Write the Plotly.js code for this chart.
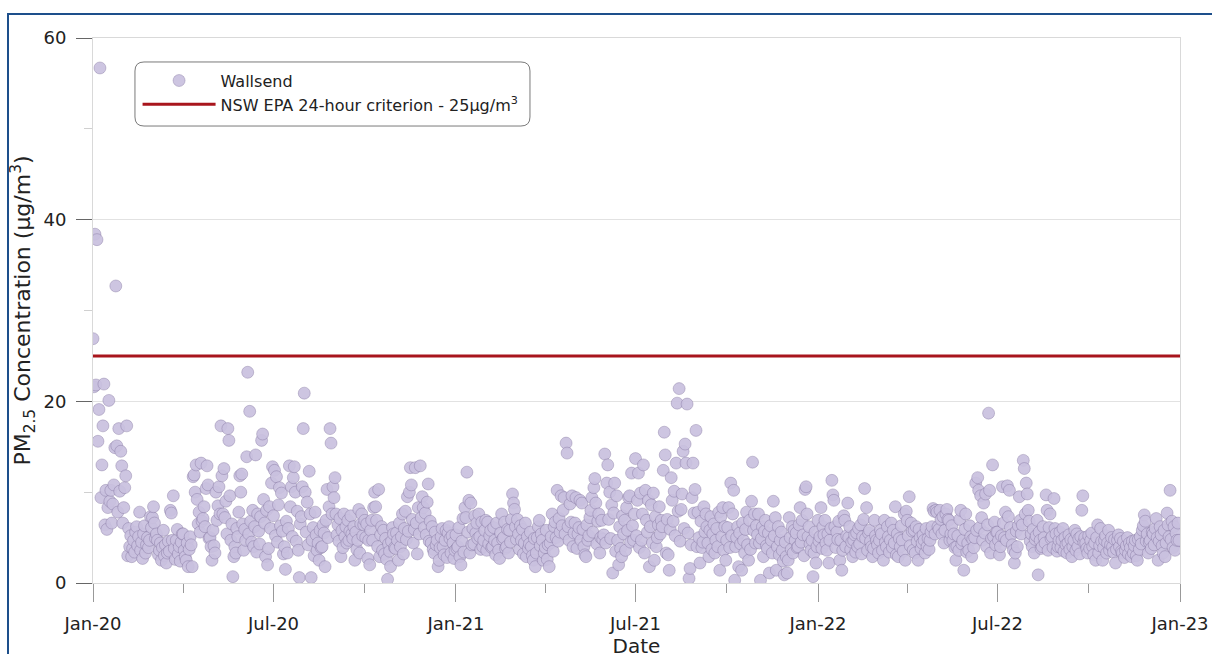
<!DOCTYPE html>
<html><head><meta charset="utf-8">
<script src="https://cdn.plot.ly/plotly-3.0.1.min.js"></script>
<style>
html,body{margin:0;padding:0;background:#fff;overflow:hidden;width:1212px;height:654px}
#chart{width:1212px;height:672px;position:absolute;left:0;top:0}
#frame{position:absolute;left:7px;top:13px;width:1260px;height:700px;border:2px solid #1d4f8b;pointer-events:none}
</style></head><body>
<div id="chart"></div><div id="frame"></div>
<script>
// Daily PM2.5 (µg/m3) at Wallsend, one array per month
const jan20 = [26.9,21.6,38.4,21.8,37.8,15.6,19.1,56.7,9.4,13.0,17.3,21.9,6.4,10.2,5.9,8.3,20.1,9.0,10.2,6.6,8.7,10.8,14.9,32.7,15.1,7.8,17.0,10.1,14.5,12.9,6.6];
const feb20 = [8.3,10.5,11.8,17.3,3.0,6.0,4.0,5.2,2.9,3.8,4.7,3.4,5.6,6.2,4.1,5.1,7.8,3.6,4.5,2.7,5.4,6.3,3.3,4.2,5.0,3.9,4.7,7.3,6.1];
const mar20 = [7.2,8.4,6.6,4.9,5.4,4.7,3.1,3.6,4.4,2.5,3.9,5.8,3.0,4.2,2.2,3.3,4.6,3.5,8.0,7.7,4.7,9.6,3.8,2.6,4.7,5.9,3.2,4.0,2.4,4.5,5.4];
const apr20 = [5.4,3.6,2.9,2.5,4.4,1.8,3.7,5.1,4.2,1.8,11.7,11.9,10.0,13.0,9.2,6.5,7.8,5.6,13.2,6.8,7.1,8.4,6.2,10.4,12.9,10.8,4.9,5.0,4.0,2.5];
const may20 = [5.8,4.1,3.3,10.0,6.9,8.5,10.6,7.6,17.3,11.8,7.6,12.6,7.2,9.0,5.4,17.0,15.7,9.6,4.7,6.5,0.7,2.9,4.0,3.3,6.0,5.1,7.8,11.8,10.0,12.0,6.5];
const jun20 = [3.6,5.9,4.7,13.9,23.2,5.4,18.9,6.8,4.5,8.0,4.0,6.2,14.1,3.4,7.6,5.7,4.3,7.3,15.7,16.4,9.2,6.6,2.9,8.0,2.0,3.8,8.4,6.0,11.0,12.8];
const jul20 = [7.4,12.4,5.2,11.7,4.5,8.6,10.5,6.3,9.9,5.7,3.2,4.0,1.5,6.8,3.3,6.0,12.9,8.4,10.6,5.1,11.6,12.8,10.0,4.6,7.9,3.6,0.6,6.5,7.3,10.6,17.0];
const aug20 = [20.9,10.0,5.6,8.9,4.2,12.3,7.6,0.6,4.7,6.1,3.0,7.8,5.3,3.6,4.4,2.5,5.8,3.9,4.0,6.4,5.5,1.8,6.9,10.3,5.0,8.4,17.0,15.4,7.6,10.6,9.4];
const sep20 = [11.6,7.6,5.3,6.4,4.6,7.1,2.9,5.8,3.9,7.6,5.1,6.2,4.4,6.9,4.7,5.7,7.4,5.4,4.9,6.2,2.5,5.6,3.7,4.7,8.1,3.3,6.5,7.6,5.2,6.4];
const oct20 = [6.9,5.0,6.5,2.7,4.7,2.0,5.8,6.9,4.7,8.3,10.0,8.4,6.9,4.0,10.3,2.9,5.3,6.2,3.6,5.8,3.2,4.9,2.6,0.4,4.3,3.5,1.8,4.6,6.1,5.4,3.9];
const nov20 = [3.8,5.5,4.7,2.5,6.6,4.0,5.1,7.6,3.2,6.0,7.9,4.8,9.5,5.7,10.0,12.7,10.8,7.0,4.4,5.9,12.7,6.6,3.2,8.3,5.4,12.9,7.2,9.5,8.3,6.1];
const dec20 = [7.7,5.3,8.9,10.9,4.6,6.8,4.4,6.2,3.7,3.3,5.6,4.2,4.7,1.8,2.5,3.9,5.1,6.0,4.0,3.1,4.7,5.8,2.8,5.5,6.2,4.9,3.3,5.2,4.4,2.7,3.6];
const jan21 = [5.3,3.8,4.0,6.1,2.9,2.0,4.6,7.1,3.4,8.3,7.2,12.2,5.6,9.1,3.3,8.8,4.2,6.0,4.3,7.4,5.5,6.6,4.9,7.6,5.1,3.7,6.7,4.0,4.7,5.8,6.9];
const feb21 = [3.6,6.7,4.3,5.2,5.8,3.9,4.0,6.1,4.7,3.1,6.6,4.4,3.6,2.7,5.5,7.6,4.8,5.0,6.7,3.8,4.0,5.9,3.3,5.8,4.5,7.0,9.8,8.8];
const mar21 = [8.1,6.2,4.8,7.0,5.4,3.7,6.3,4.7,5.9,3.2,4.4,6.6,2.9,5.1,3.8,4.3,5.6,4.0,3.0,2.5,4.9,1.8,3.3,5.0,6.2,6.9,4.1,5.4,4.7,2.5,3.3];
const apr21 = [3.9,5.8,2.6,4.2,1.8,4.4,5.1,7.6,3.5,6.2,6.7,5.0,10.2,4.6,7.1,5.6,9.6,6.3,8.0,9.4,5.4,15.4,14.3,6.2,4.7,8.7,6.7,9.6,4.0,5.5];
const may21 = [6.6,9.4,3.8,5.4,6.1,9.1,4.7,8.8,5.9,4.0,3.1,2.9,6.4,4.7,5.2,7.2,8.0,9.4,5.6,10.5,11.5,8.8,4.3,6.8,7.6,3.3,5.0,6.9,4.8,5.3,14.2];
const jun21 = [4.4,11.0,13.0,7.0,10.0,4.9,8.6,1.1,7.7,11.0,3.5,9.6,4.7,2.0,6.2,3.8,2.9,7.4,5.4,6.9,3.6,8.3,5.8,9.4,9.6,4.5,12.1,6.3,4.7,7.6];
const jul21 = [13.7,5.2,9.1,12.1,3.9,9.9,4.7,7.6,13.0,3.3,10.2,6.9,5.6,9.1,1.8,6.2,8.6,4.4,9.9,2.5,7.3,4.0,5.0,6.4,8.4,5.4,6.9,6.2,12.4,16.6,14.1];
const aug21 = [3.3,7.0,3.1,1.4,5.9,11.6,9.1,6.8,10.1,5.2,13.2,19.8,7.9,21.4,4.6,8.1,9.8,14.5,6.0,15.3,13.2,19.7,5.5,0.5,1.6,4.2,9.4,13.2,7.7,10.3,16.8];
const sep21 = [4.0,7.8,5.0,2.2,6.8,3.9,4.5,8.4,5.6,7.6,6.2,4.4,2.9,5.8,7.3,3.7,5.4,6.5,3.3,4.7,6.0,4.0,7.8,1.4,7.3,5.1,8.3,3.6,6.2,2.5];
const oct21 = [4.7,6.1,8.3,3.9,11.0,5.2,7.6,10.2,0.3,4.0,5.0,6.2,1.8,5.5,4.3,1.4,6.6,4.7,3.3,5.9,7.8,4.2,2.5,6.9,3.7,9.0,13.3,5.8,7.6,4.4,6.3];
const nov21 = [5.3,7.6,4.4,0.3,4.9,6.2,2.9,5.7,6.9,4.1,3.8,5.5,1.1,6.3,4.7,3.3,9.0,5.2,7.2,1.4,4.0,6.2,3.1,4.7,5.6,3.6,2.4,0.9,4.5,2.9];
const dec21 = [1.1,2.5,7.2,5.0,3.7,6.2,3.3,5.8,4.7,5.5,3.9,4.0,6.4,8.3,4.5,6.9,5.3,3.0,10.3,10.6,7.6,5.1,6.2,4.3,3.6,4.7,0.7,3.3,5.6,2.2,4.0];
const jan22 = [6.9,4.6,5.1,8.3,3.8,6.2,5.3,6.9,4.4,3.6,5.4,2.2,4.7,6.0,11.3,9.7,9.1,6.2,3.9,5.6,4.8,6.8,2.5,4.7,1.4,3.6,7.4,6.9,4.0,5.2,8.8];
const feb22 = [5.0,6.2,3.7,4.5,2.9,4.7,5.3,3.4,5.5,4.0,6.0,4.3,6.4,3.2,5.1,7.0,10.4,4.9,8.3,3.6,5.5,5.8,4.6,4.0,2.9,3.8,6.9,5.2];
const mar22 = [4.7,4.2,3.3,4.7,5.8,5.4,3.6,2.5,6.9,4.5,4.0,6.2,5.1,3.4,4.7,6.6,3.9,5.8,4.4,8.4,3.1,5.4,2.9,4.9,4.0,6.3,4.7,3.5,7.6,2.5,7.9];
const apr22 = [6.9,5.2,9.5,4.1,6.6,5.7,3.6,5.8,3.3,6.2,4.6,2.5,5.9,5.0,3.8,4.4,5.3,4.7,3.3,6.0,4.0,4.9,3.7,4.7,5.6,6.2,8.2,7.9,5.4,8.0];
const may22 = [7.8,6.2,5.9,8.0,7.0,5.4,7.3,4.4,5.8,7.6,8.1,7.0,6.9,4.7,5.4,6.3,4.7,5.4,3.9,2.5,4.0,5.2,3.6,7.0,8.0,4.3,4.7,1.4,5.9,7.6,3.4];
const jun22 = [4.4,3.6,6.3,5.1,2.9,4.8,3.9,5.0,11.0,5.8,11.6,10.2,6.1,9.6,7.2,4.7,8.8,5.5,9.8,4.0,6.4,18.7,10.2,3.3,4.9,13.0,5.1,6.7,4.2,5.6];
const jul22 = [5.6,4.7,3.1,4.0,5.2,10.6,6.6,5.0,7.8,4.7,10.7,7.3,10.2,6.1,5.3,4.2,3.6,2.2,3.3,5.7,4.0,6.3,9.5,6.9,5.4,6.4,13.5,12.6,7.6,11.0,9.8];
const aug22 = [8.0,6.8,4.6,5.4,4.0,5.9,3.3,4.8,5.2,6.9,0.9,5.6,4.7,3.8,4.0,6.2,5.0,4.4,9.7,8.0,3.6,6.1,7.6,4.9,5.1,3.9,9.3,6.0,5.4,3.5,4.0];
const sep22 = [4.7,5.6,3.9,4.7,6.0,3.5,5.0,4.2,3.3,4.4,5.3,3.7,4.8,2.9,4.0,4.7,5.8,3.6,5.4,4.0,4.9,3.2,5.1,8.0,9.6,4.5,5.0,4.4,3.8,3.3];
const oct22 = [5.2,3.8,4.7,5.5,4.0,3.1,4.4,2.5,5.0,6.4,3.3,4.1,6.0,4.6,2.5,3.9,4.7,5.2,3.3,4.4,5.8,3.6,4.2,5.0,4.0,3.4,4.8,2.2,3.7,4.7,5.3];
const nov22 = [4.0,4.9,3.5,3.3,4.6,2.8,3.6,4.1,5.0,3.2,4.4,3.9,2.9,4.6,3.3,4.1,4.7,3.0,2.5,4.8,3.7,5.1,4.3,5.8,6.3,7.5,6.8,4.6,5.4,3.3];
const dec22 = [4.5,4.7,3.8,5.6,5.4,4.2,6.0,7.1,5.0,2.5,4.6,6.2,5.3,4.1,3.3,5.8,2.9,4.4,7.7,6.4,5.1,10.2,4.8,6.8,3.9,6.2,3.6,5.5,4.7,6.6,4.7];

const criterionValue = 25;
const seriesName = 'Wallsend';
const criterionName = 'NSW EPA 24-hour criterion - 25µg/m<sup>3</sup>';
const xRange = ['2020-01-01', '2023-01-01'];

const months = [jan20,feb20,mar20,apr20,may20,jun20,jul20,aug20,sep20,oct20,nov20,dec20,
                jan21,feb21,mar21,apr21,may21,jun21,jul21,aug21,sep21,oct21,nov21,dec21,
                jan22,feb22,mar22,apr22,may22,jun22,jul22,aug22,sep22,oct22,nov22,dec22];
const xs = [], ys = [];
months.forEach((arr, m) => {
  arr.forEach((v, i) => {
    const d = new Date(Date.UTC(2020, m, 1 + i));
    xs.push(d.toISOString().slice(0, 10));
    ys.push(v);
  });
});

const font = 'DejaVu Sans, sans-serif';
const traces = [
  {x: xs, y: ys, type: 'scatter', mode: 'markers', name: seriesName,
   marker: {size: 12, color: 'rgba(201,192,222,0.92)', line: {color: 'rgba(110,95,140,0.55)', width: 0.6}}},
  {x: xRange, y: [criterionValue, criterionValue], type: 'scatter', mode: 'lines', name: criterionName,
   line: {color: '#a8151c', width: 3}}
];

// rounded legend box in paper coords
const bx0 = 0.0386, bx1 = 0.4020, by0 = 0.8385, by1 = 0.9560, rx = 0.0083, ry = 0.0165;
const boxPath = `M${bx0+rx},${by1} L${bx1-rx},${by1} Q${bx1},${by1} ${bx1},${by1-ry} L${bx1},${by0+ry} Q${bx1},${by0} ${bx1-rx},${by0} L${bx0+rx},${by0} Q${bx0},${by0} ${bx0},${by0+ry} L${bx0},${by1-ry} Q${bx0},${by1} ${bx0+rx},${by1} Z`;

const layout = {
  width: 1212, height: 672,
  margin: {l: 93, r: 32, t: 38, b: 89},
  paper_bgcolor: '#fff', plot_bgcolor: '#fff',
  font: {family: font, size: 18, color: '#222'},
  showlegend: true,
  legend: {x: 0.041, xanchor: 'left', y: 0.953, yanchor: 'top', bgcolor: 'rgba(0,0,0,0)',
           borderwidth: 0, font: {family: font, size: 16, color: '#222'}, itemwidth: 73, tracegroupgap: 0},
  xaxis: {type: 'date', range: xRange, tick0: '2020-01-01', dtick: 'M6', tickformat: '%b-%y',
          ticks: 'outside', ticklen: 18, tickcolor: '#999', tickwidth: 1, ticklabelstandoff: 6,
          minor: {dtick: 'M3', ticks: 'outside', ticklen: 9, tickcolor: '#999', showgrid: false},
          showgrid: false, showline: true, linecolor: '#d9d9d9', linewidth: 1, mirror: true,
          zeroline: false, tickfont: {size: 18},
          title: {text: 'Date', font: {size: 20}, standoff: 5}},
  yaxis: {range: [0, 60], dtick: 20, ticks: 'outside', ticklen: 16, tickcolor: '#666', tickwidth: 1,
          ticklabelstandoff: 6,
          minor: {dtick: 10, ticks: 'outside', ticklen: 8, tickcolor: '#d0d0d0', showgrid: false},
          showgrid: true, gridcolor: '#e2e2e2', gridwidth: 1,
          showline: true, linecolor: '#d9d9d9', linewidth: 1, mirror: true, zeroline: false,
          tickfont: {size: 18},
          title: {text: 'PM<sub>2.5</sub> Concentration (µg/m<sup>3</sup>)', font: {size: 22}, standoff: 6}},
  shapes: [{type: 'path', xref: 'paper', yref: 'paper', path: boxPath,
            line: {color: '#7a7a7a', width: 1}, fillcolor: 'rgba(255,255,255,0)', layer: 'above'}]
};

Plotly.newPlot('chart', traces, layout, {displayModeBar: false, staticPlot: true});
</script>
</body></html>
